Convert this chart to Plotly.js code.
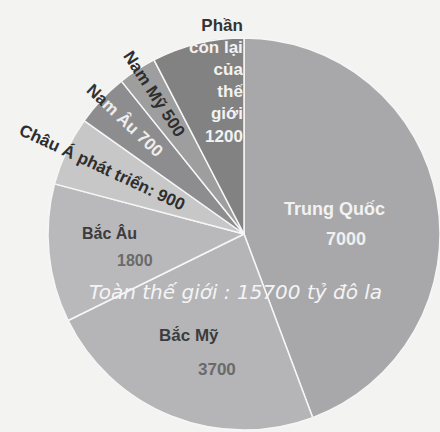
<!DOCTYPE html>
<html>
<head>
<meta charset="utf-8">
<script src="https://cdn.plot.ly/plotly-3.0.1.min.js"></script>
<style>html,body{margin:0;padding:0;background:#f3f3f2;}#chart{width:440px;height:432px;}</style>
</head>
<body>
<div id="chart"></div>
<script>
// ---- data ----
const regions = ['Trung Quốc', 'Bắc Mỹ', 'Bắc Âu', 'Châu Á phát triển', 'Nam Âu', 'Nam Mỹ', 'Phần còn lại của thế giới'];
const values = [7000, 3700, 1800, 900, 700, 500, 1200];
const totalLabel = 'Toàn thế giới : 15700 tỷ đô la';

// ---- styling ----
const sliceColors = ['#a8a8aa', '#b5b5b8', '#b9b9bc', '#c7c7c8', '#8d8d8f', '#9e9e9f', '#828283'];
const W = 440, H = 432, CX = 245, CY = 234, R = 197;
const FONT = 'Liberation Sans, Arial, sans-serif';
const labelStyle = [
  {f: 0.46, mode: 'h', size: 18, gap: 30, dx: 0, dy: 6, nameColor: '#f2f2f2', valColor: '#f0f0f0', valDx: 12},
  {f: 0.66, mode: 'h', size: 17, gap: 34, dx: -8, dy: -2, nameColor: '#3c3c3c', valColor: '#6a6a6a', valDx: 28},
  {f: 0.64, mode: 'h', size: 16, gap: 28, dx: -10, dy: 0, nameColor: '#3c3c3c', valColor: '#6a6a6a', valDx: 25},
  {f: 0.80, mode: 'r', size: 17, sep: ': ', nameColor: '#2e2e2e'},
  {f: 0.84, mode: 'r', size: 17, sep: ' ', nameColor: '#eeeeee', outerChars: 2, outerColor: '#333'},
  {f: 0.85, mode: 'r', size: 17, sep: ' ', nameColor: '#2e2e2e'},
  {f: 0.80, mode: 'stack', size: 17, lines: [['Phần'], ['còn', 'lại'], ['của'], ['thế'], ['giới']], nameColor: '#f2f2f2', firstColor: '#333', xshift: 8}
];

const total = values.reduce((a, b) => a + b, 0);
const annotations = [];
let start = 0;
function ann(px, py, text, st, extra) {
  return Object.assign({
    x: px / W, y: 1 - py / H, xref: 'paper', yref: 'paper',
    text: text, showarrow: false, xanchor: 'center', yanchor: 'middle',
    font: {family: FONT, size: st.size, color: st.nameColor, weight: 'bold'}
  }, extra || {});
}
values.forEach((v, i) => {
  const span = v / total * 360;
  const mid = start + span / 2;
  start += span;
  const st = labelStyle[i];
  const th = mid * Math.PI / 180;
  const px = CX + R * st.f * Math.sin(th);
  const py = CY - R * st.f * Math.cos(th);
  if (st.mode === 'h') {
    const bx = px + (st.dx || 0), by = py + (st.dy || 0);
    annotations.push(ann(bx, by - st.gap / 2, regions[i], st));
    annotations.push(ann(bx + (st.valDx || 0), by + st.gap / 2, String(v), st,
      {font: {family: FONT, size: st.size, color: st.valColor, weight: 'bold'}}));
  } else if (st.mode === 'r') {
    const full = regions[i] + st.sep + v;
    const text = st.outerChars
      ? `<span style="color:${st.outerColor}">${full.slice(0, st.outerChars)}</span>` + full.slice(st.outerChars)
      : full;
    annotations.push(ann(px, py, text, st, {textangle: mid - 270}));
  } else {
    const ls = st.lines.map(w => w.join(' '));
    ls.push(String(v));
    const text = ls.map((l, k) => k === 0 ? `<span style="color:${st.firstColor}">${l}</span>` : l).join('<br>');
    annotations.push(ann(px + (st.xshift || 0), py, text, st, {align: 'right'}));
  }
});
annotations.push({
  x: 235 / W, y: 1 - 292 / H, xref: 'paper', yref: 'paper', showarrow: false,
  xanchor: 'center', yanchor: 'middle',
  text: '<i>' + totalLabel + '</i>',
  font: {family: 'DejaVu Sans, sans-serif', size: 20, color: '#f4f4f4'}
});

const trace = {
  type: 'pie',
  labels: regions,
  values: values,
  sort: false,
  direction: 'clockwise',
  rotation: 0,
  textinfo: 'none',
  hoverinfo: 'label+value',
  marker: {colors: sliceColors, line: {color: '#f6f6f6', width: 1.5}},
  domain: {x: [(CX - R) / W, (CX + R) / W], y: [1 - (CY + R) / H, 1 - (CY - R) / H]},
  showlegend: false
};

Plotly.newPlot('chart', [trace], {
  width: W, height: H,
  margin: {l: 0, r: 0, t: 0, b: 0},
  paper_bgcolor: '#f3f3f2',
  plot_bgcolor: '#f3f3f2',
  showlegend: false,
  annotations: annotations
}, {displayModeBar: false, staticPlot: true});
</script>
</body>
</html>
